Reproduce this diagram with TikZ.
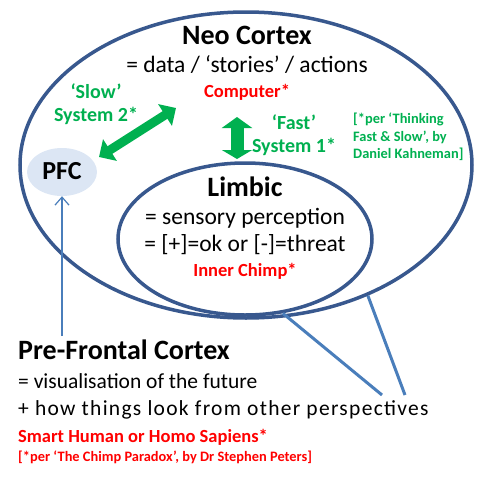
\documentclass[tikz,border=0pt]{standalone}
\usepackage{fontspec}
\setmainfont{Carlito}
\usepackage{tikz}
\usetikzlibrary{shapes.geometric,arrows.meta,positioning}

\definecolor{ringblue}{RGB}{56,88,142}
\definecolor{lineblue}{RGB}{74,126,187}
\definecolor{pfcfill}{RGB}{220,230,244}
\definecolor{sysgreen}{RGB}{0,176,80}
\definecolor{tagred}{RGB}{255,0,0}

\begin{document}
\begin{tikzpicture}[
        x=1pt, y=-1pt,
        ring/.style={ellipse, draw=ringblue, line width=3.5pt, inner sep=0pt},
        title/.style={font=\fontsize{28}{30}\selectfont\bfseries, inner sep=0pt},
        body/.style={font=\fontsize{23.5}{25}\selectfont, inner sep=0pt},
        lower/.style={font=\fontsize{21.5}{23}\selectfont, inner sep=0pt, anchor=west},
        tag/.style={font=\fontsize{18.5}{20}\selectfont\bfseries, text=tagred, inner sep=0pt},
        sys/.style={font=\fontsize{20}{23}\selectfont\bfseries, text=sysgreen, align=center, inner sep=0pt},
        cite/.style={font=\fontsize{14.4}{17.5}\selectfont\bfseries, inner sep=0pt},
        twoway/.style={{Triangle[width=25pt,length=13pt]}-{Triangle[width=25pt,length=13pt]}, sysgreen, line width=9pt},
        callout/.style={lineblue, line width=3pt}
    ]
        \useasboundingbox (0,0) rectangle (480,480);
        % brain regions
        \node[ring, minimum width=452pt, minimum height=306pt] (neo) at (246,165) {};
        \node[ring, minimum width=254pt, minimum height=152pt] (limbic) at (245,239) {};
        \node[ellipse, fill=pfcfill, minimum width=70pt, minimum height=48pt, inner sep=0pt] (pfc) at (62,172) {};
        \node[title, font=\fontsize{26}{28}\selectfont\bfseries] at (62,171) {PFC};
        % neo cortex texts
        \node[title] (neotitle) at (247,35) {Neo Cortex};
        \node[body] (neobody) at (247,65) {= data / `stories' / actions};
        \node[tag] (computer) at (247,92) {Computer*};
        \node[sys] (slow) at (96,104) {`Slow'\\System 2*};
        \node[sys] (fast) at (294,135) {`Fast'\\System 1*};
        \node[cite, text=sysgreen, align=left, anchor=west] (kahneman) at (353,137) {[*per `Thinking\\Fast \& Slow', by\\Daniel Kahneman]};
        % limbic texts
        \node[title] (limbictitle) at (245,187) {Limbic};
        \node[body] (sense) at (245,218) {= sensory perception};
        \node[body] (threat) at (245,245) {= [+]=ok or [-]=threat};
        \node[tag] (chimp) at (245,271) {Inner Chimp*};
        % pre-frontal cortex texts
        \node[title, anchor=west] (pfctitle) at (18,350) {Pre-Frontal Cortex};
        \node[lower] (future) at (18,381) {= visualisation of the future};
        \node[lower] (persp) at (18,410) {\addfontfeature{LetterSpace=6}+ how things look from other perspectives};
        \node[tag, anchor=west] (sapiens) at (18,437) {Smart Human or Homo Sapiens*};
        \node[cite, text=tagred, anchor=west] (peters) at (18,457) {[*per `The Chimp Paradox', by Dr Stephen Peters]};
        % green system arrows
        \coordinate (s2a) at (99,157);
        \coordinate (s2b) at (176,108);
        \coordinate (s1a) at (237,117);
        \coordinate (s1b) at (237,159);
        \draw[twoway] (s2a) -- (s2b);
        \draw[twoway, line width=13pt, {Triangle[width=30pt,length=11pt]}-{Triangle[width=30pt,length=9pt]}] (s1a) -- (s1b);
        % pointers
        \draw[-{Straight Barb[length=8pt,width=14pt]}, lineblue, line width=1.2pt] (62,336) -- (pfc.south);
        \coordinate (tipa) at (382,395);
        \coordinate (tipb) at (405,395);
        \draw[callout] (limbic.-63) -- (tipa);
        \draw[callout] (neo.-47) -- (tipb);
    \end{tikzpicture}
\end{document}
